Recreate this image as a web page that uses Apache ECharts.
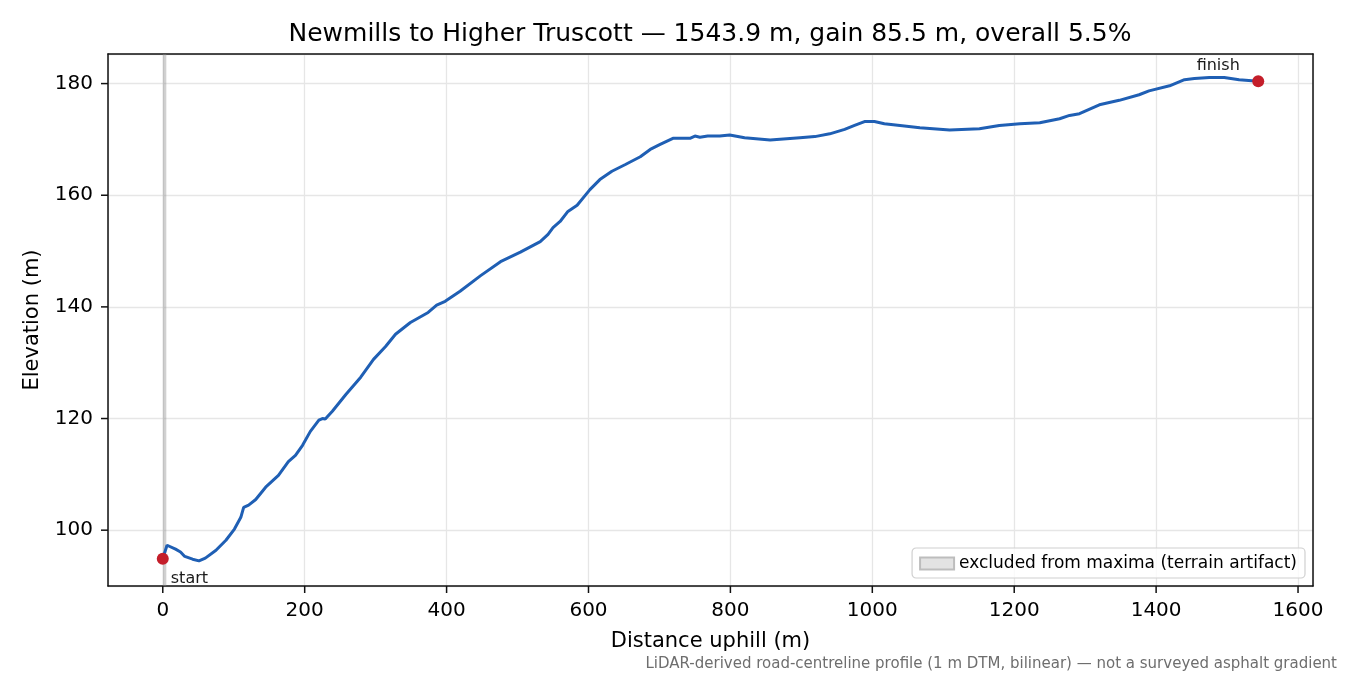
<!DOCTYPE html>
<html>
<head>
<meta charset="utf-8">
<script src="https://cdn.jsdelivr.net/npm/echarts@6/dist/echarts.min.js"></script>
<style>
  html, body { margin: 0; padding: 0; background: #fff; }
  #chart { width: 1350px; height: 675px; }
</style>
</head>
<body>
<div id="chart"></div>
<script>
// distance along the road (m) and elevation (m)
const distance = [0, 6, 18, 25, 31, 42, 51, 60, 75, 89, 101, 110, 114, 121, 131, 145, 163, 177, 187, 197,
  208, 220, 225, 229, 239, 258, 279, 297, 314, 328, 349, 374, 386, 398, 419, 448, 476, 504, 532, 543,
  550, 560, 571, 584, 602, 616, 633, 652, 673, 687, 701, 719, 743, 750, 757, 768, 785, 799, 820, 856, 898, 919,
  940, 961, 975, 989, 1003, 1017, 1039, 1067, 1109, 1151, 1179, 1208, 1236, 1264, 1278, 1292, 1320, 1348, 1376, 1390,
  1419, 1440, 1454, 1475, 1496, 1517, 1543.9];
const elevation = [94.9, 97.3, 96.6, 96.1, 95.3, 94.8, 94.5, 95.0, 96.4, 98.2, 100.2, 102.3, 104.1, 104.5, 105.5, 107.7, 109.8, 112.3, 113.4, 115.2,
  117.7, 119.7, 120.0, 119.9, 121.3, 124.3, 127.4, 130.6, 132.9, 135.1, 137.2, 139.0, 140.3, 141.0, 142.8, 145.6, 148.1, 149.8, 151.7, 153.0,
  154.2, 155.3, 157.1, 158.2, 161.0, 162.8, 164.3, 165.5, 166.9, 168.2, 169.1, 170.2, 170.2, 170.6, 170.4, 170.6, 170.6, 170.8, 170.3, 169.9, 170.3, 170.5,
  171.0, 171.8, 172.5, 173.2, 173.2, 172.8, 172.5, 172.1, 171.7, 171.9, 172.5, 172.8, 173.0, 173.7, 174.3, 174.6, 176.2, 177.0, 178.0, 178.7,
  179.6, 180.7, 180.9, 181.1, 181.1, 180.7, 180.4];

const endpointNames = ["start", "finish"];
const endpointDist = [0, 1543.9];
const endpointElev = [94.9, 180.4];

const excludedSpan = [0, 5];
const xRange = [-77.2, 1621.1];
const yRange = [90.0, 185.3];
const xTicks = [0, 200, 400, 600, 800, 1000, 1200, 1400, 1600];
const yTicks = [100, 120, 140, 160, 180];

const titleText = "Newmills to Higher Truscott \u2014 1543.9 m, gain 85.5 m, overall 5.5%";
const footText = "LiDAR-derived road-centreline profile (1 m DTM, bilinear) \u2014 not a surveyed asphalt gradient";
const excludedName = "excluded from maxima (terrain artifact)";

const FONT = "DejaVu Sans";
const TICK_LEN = 7;
const chart = echarts.init(document.getElementById("chart"));

const profile = distance.map((d, i) => [d, elevation[i]]);
const endpoints = endpointDist.map((d, i) => ({ value: [d, endpointElev[i]], name: endpointNames[i] }));

const axisInk = { color: "#111", width: 1.5 };
const gridInk = { color: "#e6e6e6", width: 1.3 };

// frame-only axes for the top and right edges
const frameAxis = {
  type: "value", axisLine: { show: true, onZero: false, lineStyle: axisInk },
  axisTick: { show: false }, axisLabel: { show: false }, splitLine: { show: false }
};

// outward tick marks, placed through the axis scales
function tickSeries(values, horizontal) {
  return {
    type: "custom",
    silent: true,
    clip: false,
    z: 6,
    data: values.map(v => horizontal ? [v, yRange[0]] : [xRange[0], v]),
    renderItem: (params, api) => {
      const p = api.coord([api.value(0), api.value(1)]);
      const shape = horizontal
        ? { x1: p[0], y1: p[1], x2: p[0], y2: p[1] + TICK_LEN }
        : { x1: p[0], y1: p[1], x2: p[0] - TICK_LEN, y2: p[1] };
      return { type: "line", shape: shape, style: { stroke: axisInk.color, lineWidth: axisInk.width } };
    }
  };
}

chart.setOption({
  animation: false,
  backgroundColor: "#fff",
  textStyle: { fontFamily: FONT },
  graphic: [
    {
      type: "text", x: 710, y: 34,
      style: {
        text: titleText, align: "center", verticalAlign: "middle",
        font: "25px '" + FONT + "'", fill: "#000"
      }
    }
  ],
  title: {
    text: footText, right: 8, top: 652,
    textStyle: { fontFamily: FONT, fontSize: 15, fontWeight: "normal", color: "#6e6e6e" }
  },
  legend: {
    data: [{ name: excludedName, icon: "rect" }],
    right: 45, bottom: 97,
    itemWidth: 34, itemHeight: 12, itemGap: 10,
    padding: [7, 8, 6, 7],
    borderColor: "#d0d0d0", borderWidth: 1.2, borderRadius: 4,
    backgroundColor: "rgba(255,255,255,0.8)",
    textStyle: { fontFamily: FONT, fontSize: 17, color: "#000" }
  },
  grid: {
    left: 108, right: 37, top: 54, bottom: 89,
    show: false
  },
  xAxis: [
    {
      type: "value", min: xRange[0], max: xRange[1], splitNumber: 8, position: "bottom",
      name: "Distance uphill (m)", nameLocation: "middle", nameGap: 45,
      nameTextStyle: { fontFamily: FONT, fontSize: 21, color: "#000" },
      axisLine: { show: true, onZero: false, lineStyle: axisInk },
      axisTick: { show: false },
      axisLabel: { fontFamily: FONT, fontSize: 20, color: "#000", margin: 15, showMinLabel: false, showMaxLabel: false, formatter: v => String(v) },
      splitLine: { show: true, lineStyle: gridInk }
    },
    Object.assign({ min: xRange[0], max: xRange[1], position: "top" }, frameAxis)
  ],
  yAxis: [
    {
      type: "value", min: yRange[0], max: yRange[1], splitNumber: 5, position: "left",
      name: "Elevation (m)", nameLocation: "middle", nameGap: 65,
      nameTextStyle: { fontFamily: FONT, fontSize: 21, color: "#000" },
      axisLine: { show: true, onZero: false, lineStyle: axisInk },
      axisTick: { show: false },
      axisLabel: { fontFamily: FONT, fontSize: 20, color: "#000", margin: 15, showMinLabel: false, showMaxLabel: false, formatter: v => String(v) },
      splitLine: { show: true, lineStyle: gridInk }
    },
    Object.assign({ min: yRange[0], max: yRange[1], position: "right" }, frameAxis)
  ],
  series: [
    {
      name: excludedName,
      type: "line",
      data: [],
      itemStyle: { color: "#e3e3e3", borderColor: "#bdbdbd", borderWidth: 1 },
      markArea: {
        silent: true,
        itemStyle: { color: "rgba(140,140,140,0.4)" },
        data: [[{ xAxis: excludedSpan[0] }, { xAxis: excludedSpan[1] }]]
      }
    },
    {
      name: "profile",
      type: "line",
      data: profile,
      showSymbol: false,
      smooth: false,
      lineStyle: { color: "#1f5fb4", width: 3 },
      z: 3
    },
    {
      name: "endpoints",
      type: "scatter",
      data: endpoints,
      symbolSize: 12,
      itemStyle: { color: "#c41e2a", opacity: 1 },
      z: 4,
      label: {
        show: true,
        fontFamily: FONT, fontSize: 16, color: "#1a1a1a",
        formatter: p => p.name,
        position: "bottom"
      },
      labelLayout: function (params) {
        if (params.dataIndex === 0) {
          return { x: params.rect.x + 14, y: params.rect.y + params.rect.height + 6, align: "left", verticalAlign: "top" };
        }
        return { x: params.rect.x - 34, y: params.rect.y - 2, align: "center", verticalAlign: "bottom" };
      }
    },
    tickSeries(xTicks, true),
    tickSeries(yTicks, false)
  ]
});
</script>
</body>
</html>
